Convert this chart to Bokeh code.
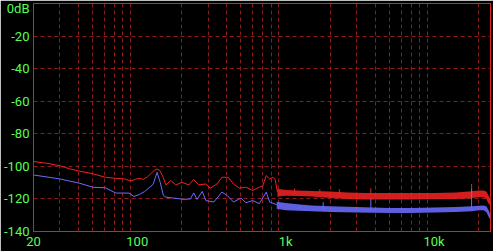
from bokeh.plotting import figure
from bokeh.models import Range1d, FixedTicker
from bokeh.embed import file_html
from bokeh.resources import INLINE

# ---- data ----
red_freq = [20, 25, 30, 35, 41, 50, 61, 70, 82, 90, 97, 103, 110, 117, 125, 130, 136, 142,
            150, 156, 168, 182, 200, 223, 240, 260, 290, 310, 345, 372, 410, 445, 488, 540,
            600, 665, 700, 740, 780, 820, 850, 880]
red_db = [-97.0, -98.2, -99.6, -101.5, -103.0, -104.5, -106.7, -107.3, -107.7, -109.0, -108.0,
          -107.3, -108.0, -106.5, -104.0, -102.5, -101.6, -102.5, -107.0, -111.4, -108.7,
          -111.4, -109.8, -111.4, -108.1, -111.4, -110.8, -113.4, -110.8, -106.7, -106.7,
          -110.8, -113.4, -112.8, -114.8, -112.8, -112.0, -105.7, -107.7, -106.7, -108.0, -115.8]

blue_freq = [20, 30, 41, 50, 61, 72, 88, 95, 103, 112, 120, 128, 136, 143, 150, 156, 176,
             206, 228, 240, 253, 274, 290, 328, 372, 404, 445, 500, 540, 600, 665, 740, 780, 870]
blue_db = [-105.3, -107.7, -110.4, -112.8, -113.2, -116.4, -116.4, -118.5, -117.3, -115.5,
           -113.2, -111.0, -103.7, -110.0, -117.9, -118.9, -119.5, -120.3, -120.0, -116.3,
           -120.3, -115.4, -121.0, -121.9, -115.8, -117.9, -121.9, -119.5, -122.3, -121.0,
           -122.9, -115.8, -121.9, -123.5]

red_band_f = [880, 1000, 1200, 1500, 2000, 2600, 3500, 4700, 7000, 10000, 14000, 17000,
              20000, 21500, 22500, 23300, 24000]
red_band_top = [-113.8, -114.5, -114.8, -115.2, -115.4, -116.0, -116.3, -116.3, -116.3,
                -116.3, -116.0, -115.5, -114.8, -114.8, -115.5, -118.0, -120.5]
red_band_bot = [-118.5, -118.0, -118.2, -118.5, -119.5, -120.0, -120.3, -120.3, -120.3,
                -120.0, -120.0, -119.7, -119.0, -119.0, -120.0, -123.0, -124.0]

blue_band_f = [870, 1000, 1200, 1500, 2000, 3000, 5000, 7000, 10000, 14000, 18000, 20000,
               21500, 22500, 23300, 24000]
blue_band_top = [-121.7, -122.5, -123.2, -124.0, -124.5, -125.0, -125.5, -125.5, -125.3,
                 -125.0, -124.5, -124.2, -124.0, -124.5, -127.0, -130.0]
blue_band_bot = [-126.0, -127.0, -127.3, -127.5, -128.0, -128.4, -128.7, -128.7, -128.4,
                 -128.0, -127.5, -127.0, -127.0, -128.0, -131.0, -133.0]

red_spike_f = [1150, 1700, 2300, 3750, 17900]
red_spike_db = [-113.5, -114.0, -114.0, -113.4, -110.8]
red_spike_base = [-117.0, -117.0, -118.0, -118.0, -117.0]

blue_spike_f = [1240, 1790, 3750, 17900]
blue_spike_db = [-124.6, -122.0, -120.0, -113.8]
blue_spike_base = [-126.0, -126.5, -127.0, -126.0]

x_tick_vals = [20, 100, 1000, 10000]
x_tick_labels = ["20", "100", "1k", "10k"]
x_grid_vals = [30, 40, 50, 60, 70, 80, 90, 200, 300, 400, 500, 600, 700, 800, 900,
               2000, 3000, 4000, 5000, 6000, 7000, 8000, 9000, 20000]
y_tick_vals = [0, -20, -40, -60, -80, -100, -120, -140]
y_tick_labels = ["0dB", "-20", "-40", "-60", "-80", "-100", "-120", "-140"]
y_grid_vals = [-20, -40, -60, -80, -100, -120]

RED = "#ee2222"
BLUE = "#6b6bff"
GRID = "#8e1a1a"
BORDER = "#dd2222"
TXT = "#55ff55"
FONT = "Roboto"

p = figure(width=493, height=251, x_axis_type="log", output_backend="svg",
           toolbar_location=None, x_range=Range1d(20, 24000), y_range=Range1d(-140, 0),
           min_border_left=29, min_border_right=3, min_border_top=3, min_border_bottom=18)
p.background_fill_color = "black"
p.border_fill_color = "black"
p.outline_line_color = BORDER
p.outline_line_width = 1

for ax in (p.xaxis[0], p.yaxis[0]):
    ax.axis_line_color = None
    ax.major_tick_line_color = None
    ax.minor_tick_line_color = None
    ax.major_label_text_color = TXT
    ax.major_label_text_font = FONT
    ax.major_label_text_font_size = "13px"
    ax.major_tick_out = 0
    ax.major_tick_in = 0
    ax.minor_tick_out = 0

p.xaxis.ticker = FixedTicker(ticks=x_tick_vals)
p.xaxis.major_label_overrides = dict(zip(x_tick_vals, x_tick_labels))
p.xaxis.major_label_standoff = 2
p.yaxis.ticker = FixedTicker(ticks=y_tick_vals)
p.yaxis.major_label_overrides = dict(zip(y_tick_vals, y_tick_labels))
p.yaxis.major_label_standoff = 4

p.xgrid.ticker = FixedTicker(ticks=x_grid_vals)
p.ygrid.ticker = FixedTicker(ticks=y_grid_vals)
for g in (p.xgrid[0], p.ygrid[0]):
    g.grid_line_color = GRID
    g.grid_line_dash = "4 3"
    g.grid_line_width = 1

# red trace
p.varea(x=red_band_f, y1=red_band_bot, y2=red_band_top, fill_color=RED, fill_alpha=0.88)
p.line(red_freq, red_db, line_color=RED, line_width=1)
p.segment(x0=red_spike_f, y0=red_spike_base, x1=red_spike_f, y1=red_spike_db,
          line_color=RED, line_width=1)

# blue trace
p.varea(x=blue_band_f, y1=blue_band_bot, y2=blue_band_top, fill_color=BLUE, fill_alpha=0.88)
p.line(blue_freq, blue_db, line_color=BLUE, line_width=1)
p.segment(x0=blue_spike_f, y0=blue_spike_base, x1=blue_spike_f, y1=blue_spike_db,
          line_color=BLUE, line_width=1)

open("out.html", "w").write(file_html(p, INLINE))
